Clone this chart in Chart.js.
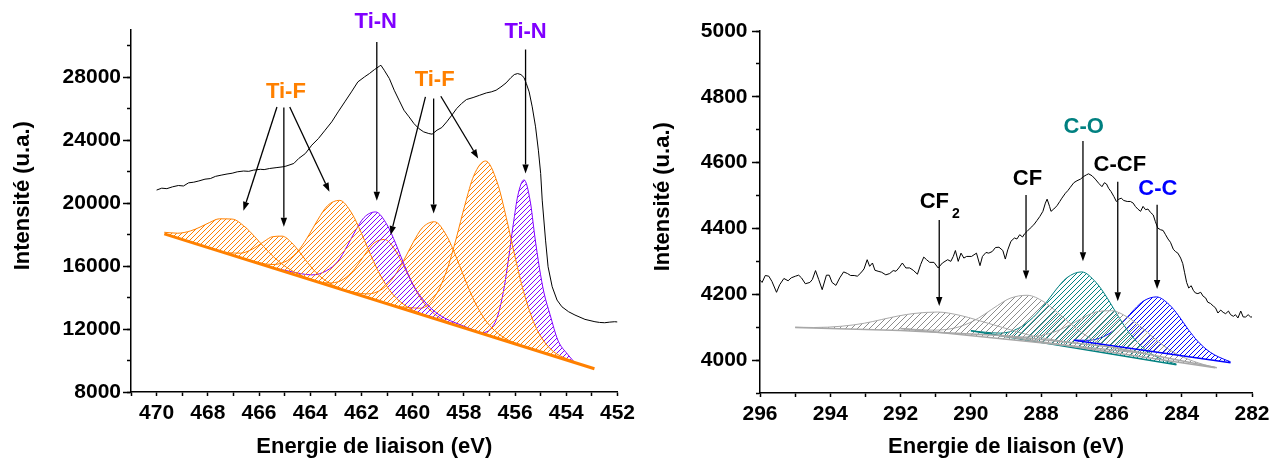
<!DOCTYPE html>
<html>
<head>
<meta charset="utf-8">
<script src="https://cdn.jsdelivr.net/npm/chart.js@4.4.1/dist/chart.umd.min.js"></script>
<style>
html,body{margin:0;padding:0;background:#fff;}
#wrap{position:relative;width:1280px;height:464px;overflow:hidden;}
#wrap canvas{position:absolute;top:0;}
</style>
</head>
<body>
<div id="wrap">
<canvas id="c1" width="640" height="464" style="left:0"></canvas>
<canvas id="c2" width="640" height="464" style="left:640px"></canvas>
</div>
<script>
// ---------------- LEFT PANEL : Ti 2p ----------------
const tiExpEV = [470.00,469.80,469.60,469.38,469.15,468.95,468.75,468.55,468.35,468.11,467.90,467.70,467.48,467.25,467.05,466.85,466.60,466.40,466.22,465.95,465.80,465.59,465.30,465.10,464.95,464.64,464.45,464.19,463.94,463.68,463.42,463.16,462.91,462.65,462.39,462.14,461.88,461.69,461.49,461.30,461.24,461.11,460.91,460.72,460.53,460.34,460.14,459.95,459.76,459.57,459.37,459.24,459.05,458.86,458.67,458.47,458.28,458.09,457.90,457.64,457.38,457.12,456.93,456.74,456.55,456.35,456.16,456.03,455.90,455.77,455.65,455.56,455.45,455.33,455.20,455.09,455.00,454.94,454.81,454.71,454.55,454.36,454.17,453.91,453.66,453.27,452.88,452.70,452.50,452.30,452.11,452.00];
const tiExpInt = [20830,20950,20920,21035,21120,21090,21290,21330,21410,21523,21560,21700,21777,21850,21900,21989,22040,22020,22095,22150,22130,22200,22260,22300,22349,22520,22836,23153,23682,24105,24634,25163,25798,26433,27068,27703,28020,28232,28486,28698,28761,28444,27915,27174,26539,25904,25481,25057,24740,24528,24423,24381,24634,24804,25163,25587,26010,26327,26581,26708,26856,27004,27068,27174,27385,27639,27978,28168,28232,28168,27978,27597,27068,26116,24846,23365,21883,20190,17650,15955,14685,13840,13415,13100,12890,12615,12465,12420,12400,12440,12465,12450];

const tiBaseEV  = [469.70, 452.90];
const tiBaseInt = [18048, 9480];

const tiF1EV  = [469.70,469.175,468.675,468.30,467.925,467.55,467.05,466.55,466.175,465.80,465.425,464.925,464.30,463.30];
const tiF1Int = [18149,18089,18235,18479,18773,19002,18987,18492,17881,17204,16578,15922,15374,14789];
const tiF2EV  = [467.95,467.19,466.715,466.335,466.05,465.765,465.48,465.10,464.72,464.435,464.15,463.865,463.485,463.01,462.25];
const tiF2Int = [17160,16845,16823,17014,17287,17607,17865,17902,17477,16929,16318,15754,15175,14713,14253];
const tiF3EV  = [466.45,465.49,464.89,464.41,464.05,463.69,463.33,462.85,462.37,462.01,461.65,461.29,460.81,460.21,459.25];
const tiF3Int = [16402,16098,16354,17092,17977,18984,19830,20175,19340,18127,16753,15501,14273,13405,12730];
const tiN1EV  = [465.35,464.825,463.925,463.36,462.91,462.575,462.24,461.90,461.45,461.00,460.66,460.325,459.99,459.54,458.975,458.075,457.30];
const tiN1Int = [15860,15674,15439,15711,16321,17214,18230,19083,19441,18623,17425,16067,14832,13762,12914,12231,11744];
const tiF4EV  = [464.10,463.30,462.80,462.40,462.10,461.80,461.50,461.10,460.70,460.40,460.10,459.80,459.40,458.90,458.10];
const tiF4Int = [15200,14925,15073,15574,16187,16888,17473,17692,17065,16174,15167,14248,13339,12681,12140];
const tiF5EV  = [462.75,461.79,461.19,460.71,460.35,459.99,459.63,459.15,458.67,458.31,457.95,457.59,457.11,456.51,455.55];
const tiF5Int = [14516,14229,14538,15370,16355,17475,18416,18818,17927,16618,15131,13779,12457,11536,10844];
const tiF6EV  = [460.60,459.68,459.105,458.645,458.30,457.955,457.61,457.15,456.69,456.345,456.00,455.655,455.195,454.62,453.70];
const tiF6Int = [13429,13324,14134,15829,17749,19911,21754,22678,21285,19090,16576,14304,12139,10743,9910];
const tiN2EV  = [457.85,457.30,456.97,456.67,456.43,456.25,456.07,455.89,455.65,455.41,455.23,455.05,454.87,454.63,454.33,453.95,453.70];
const tiN2Int = [12004,11779,11981,12882,14604,16515,18657,20494,21479,20150,17900,15900,14300,12900,11300,10400,9928];

const tiLabelText = ['Ti-N','Ti-N','Ti-F','Ti-F'];
const tiLabelEV   = [461.44, 455.59, 464.95, 459.14];
const tiLabelInt  = [31510, 30875, 27090, 27810];
// arrows: [fromEV, fromInt, toEV, toInt]
const tiArrows = [
  [461.40,30240,461.40,20150],
  [455.59,29760,455.59,21885],
  [465.30,26110,466.61,19510],
  [465.03,26075,465.03,18495],
  [464.80,26110,463.25,20717],
  [459.50,26750,460.86,17968],
  [459.18,26646,459.18,19346],
  [458.90,26793,457.44,22837]
];

// ---------------- RIGHT PANEL : C 1s ----------------
const cExpEV = [296.00,295.94,295.85,295.75,295.66,295.53,295.44,295.32,295.20,295.11,294.99,294.90,294.82,294.71,294.58,294.51,294.42,294.33,294.23,294.11,294.03,293.95,293.84,293.73,293.62,293.51,293.42,293.32,293.23,293.13,293.04,292.95,292.88,292.80,292.73,292.64,292.54,292.42,292.31,292.21,292.13,292.05,291.95,291.85,291.74,291.64,291.52,291.43,291.34,291.26,291.17,291.05,290.93,290.81,290.66,290.57,290.50,290.44,290.36,290.28,290.20,290.12,289.98,289.84,289.74,289.67,289.57,289.49,289.39,289.30,289.20,289.09,289.02,288.95,288.86,288.76,288.69,288.61,288.53,288.47,288.40,288.31,288.21,288.12,288.04,287.95,287.88,287.83,287.76,287.72,287.64,287.55,287.47,287.41,287.31,287.24,287.17,287.12,287.07,286.98,286.88,286.79,286.71,286.65,286.55,286.46,286.36,286.27,286.20,286.14,286.08,286.01,285.93,285.86,285.79,285.72,285.65,285.55,285.46,285.38,285.32,285.25,285.17,285.10,285.03,284.96,284.89,284.81,284.75,284.68,284.60,284.53,284.46,284.39,284.32,284.24,284.18,284.11,284.03,283.97,283.92,283.86,283.80,283.73,283.67,283.61,283.54,283.46,283.39,283.32,283.26,283.18,283.10,283.04,282.97,282.89,282.82,282.75,282.67,282.61,282.53,282.47,282.40,282.32,282.25,282.18,282.11,282.04,282.00];
const cExpInt = [4243,4236,4257,4255,4239,4206,4229,4248,4241,4250,4255,4258,4250,4232,4236,4245,4272,4245,4214,4258,4258,4236,4227,4250,4268,4263,4257,4257,4255,4265,4277,4305,4285,4295,4273,4270,4267,4259,4263,4272,4270,4280,4295,4280,4280,4273,4261,4290,4313,4305,4297,4297,4280,4295,4305,4300,4315,4333,4300,4325,4310,4315,4315,4325,4287,4315,4327,4325,4330,4342,4343,4333,4307,4335,4361,4371,4368,4381,4374,4384,4391,4401,4411,4424,4436,4452,4477,4489,4467,4452,4459,4469,4482,4492,4507,4515,4525,4532,4539,4545,4550,4558,4563,4566,4560,4550,4537,4527,4539,4535,4522,4512,4497,4482,4489,4492,4485,4482,4482,4477,4467,4459,4452,4467,4457,4459,4449,4441,4421,4401,4396,4394,4381,4368,4358,4337,4330,4325,4310,4293,4267,4236,4219,4226,4212,4204,4202,4206,4194,4189,4176,4172,4164,4159,4143,4152,4145,4141,4149,4138,4133,4138,4128,4149,4131,4131,4138,4131,4131];

const cf2BaseEV  = [295.0, 292.0, 289.0, 286.0, 283.0];
const cf2BaseInt = [4099, 4090, 4074, 4040, 3977];
const cfBaseEV   = [292.0, 285.0];
const cfBaseInt  = [4096, 4020];
const ccfBaseEV  = [289.2, 283.05];
const ccfBaseInt = [4075, 3977];
const coBaseEV   = [290.0, 284.15];
const coBaseInt  = [4089, 3986];
const ccBaseEV   = [287.07, 282.61];
const ccBaseInt  = [4060, 3992];

const cf2EV  = [295.00,294.47,293.67,293.03,292.55,292.07,291.59,290.95,290.31,289.83,289.35,288.87,288.23,287.43,286.80];
const cf2Int = [4100,4099,4103,4112,4123,4134,4142,4146,4136,4122,4107,4092,4073,4058,4049];
const cfEV   = [292.00,291.04,290.44,289.96,289.60,289.24,288.88,288.40,287.92,287.56,287.20,286.84,286.36,285.76,285.10];
const cfInt  = [4096,4091,4098,4117,4140,4166,4188,4197,4177,4147,4114,4083,4053,4033,4021];
const ccfEV  = [289.20,288.64,288.04,287.56,287.20,286.84,286.48,286.00,285.52,285.16,284.80,284.44,283.96,283.36,283.05];
const ccfInt = [4076,4070,4074,4088,4106,4127,4145,4150,4129,4101,4068,4038,4009,3986,3978];
const coEV   = [290.00,289.16,288.635,288.215,287.90,287.585,287.27,286.85,286.43,286.115,285.80,285.485,285.065,284.54,284.15];
const coInt  = [4089,4082,4097,4131,4169,4213,4250,4268,4235,4188,4132,4082,4034,4001,3988];
const ccEV   = [287.07,286.70,286.25,285.89,285.62,285.35,285.08,284.72,284.36,284.09,283.82,283.55,283.19,282.74,282.61];
const ccInt  = [4061,4060,4070,4094,4122,4154,4180,4192,4169,4135,4094,4058,4024,4000,3995];

const cLabelText = ['CF','CF','C-O','C-CF','C-C'];
const cLabelSub  = ['2','','','',''];
const cLabelEV   = [291.04, 288.39, 286.79, 285.76, 284.68];
const cLabelInt  = [4482, 4551, 4707, 4594, 4520];
const cArrows = [
  [290.90,4426,290.90,4164],
  [288.43,4502,288.43,4245],
  [286.81,4666,286.81,4300],
  [285.82,4542,285.82,4179],
  [284.70,4472,284.70,4216]
];

// ---------------- styling / helpers ----------------
const FONT = "'Liberation Sans', Arial, Helvetica, sans-serif";
Chart.defaults.font.family = FONT;
Chart.defaults.color = '#000';

const ORANGE = '#ff8000', PURPLE = '#8000ff', GREY = '#a8a8a8', GREYH = '#8c8c8c', TEAL = '#008080', BLUE = '#0000ff';
const CLEAR = 'rgba(0,0,0,0)';

function P(xs, ys){ const n = Math.min(xs.length, ys.length); const out=[]; for(let i=0;i<n;i++) out.push({x:xs[i], y:ys[i]}); return out; }

function hatch(color, size, lw){
  const c = document.createElement('canvas');
  c.width = size; c.height = size;
  const g = c.getContext('2d');
  g.strokeStyle = color; g.lineWidth = lw;
  g.beginPath();
  g.moveTo(-1, size+1); g.lineTo(size+1, -1);
  g.moveTo(-2, 2); g.lineTo(2, -2);
  g.moveTo(size-2, size+2); g.lineTo(size+2, size-2);
  g.stroke();
  return g.createPattern(c, 'repeat');
}

function lineDs(xs, ys, color, width){
  return {data:P(xs,ys), borderColor:color, borderWidth:width, pointRadius:0, pointHoverRadius:0, fill:false, tension:0};
}
function peakDs(xs, ys, color, pattern, baseIdx){
  return {data:P(xs,ys), borderColor:color, borderWidth:1, pointRadius:0, pointHoverRadius:0,
          backgroundColor:pattern, fill:baseIdx, cubicInterpolationMode:'monotone'};
}

const annotPlugin = {
  id:'annot',
  afterDatasetsDraw(chart, args, opts){
    const ctx = chart.ctx, xs = chart.scales.x, ys = chart.scales.y;
    ctx.save();
    ctx.strokeStyle = '#000'; ctx.fillStyle = '#000'; ctx.lineWidth = 1.3;
    (opts.arrows||[]).forEach(a => {
      const x1 = xs.getPixelForValue(a[0]), y1 = ys.getPixelForValue(a[1]);
      const x2 = xs.getPixelForValue(a[2]), y2 = ys.getPixelForValue(a[3]);
      const ang = Math.atan2(y2-y1, x2-x1), L = 9, W = 3.2;
      const bx = x2 - L*Math.cos(ang), by = y2 - L*Math.sin(ang);
      ctx.beginPath(); ctx.moveTo(x1,y1); ctx.lineTo(bx,by); ctx.stroke();
      ctx.beginPath(); ctx.moveTo(x2,y2);
      ctx.lineTo(bx + W*Math.sin(ang), by - W*Math.cos(ang));
      ctx.lineTo(bx - W*Math.sin(ang), by + W*Math.cos(ang));
      ctx.closePath(); ctx.fill();
    });
    ctx.textBaseline = 'middle';
    (opts.text||[]).forEach((t,i) => {
      const px = xs.getPixelForValue(opts.ev[i]), py = ys.getPixelForValue(opts.val[i]);
      ctx.font = "bold 22px " + FONT;
      ctx.textAlign = 'center';
      ctx.fillStyle = opts.colors[i];
      ctx.fillText(t, px, py);
      const sub = opts.sub ? opts.sub[i] : '';
      if (sub){
        const w = ctx.measureText(t).width;
        ctx.font = "bold 14px " + FONT;
        ctx.textAlign = 'left';
        ctx.fillText(sub, px + w/2 + 3, py + 13);
      }
    });
    ctx.restore();
  }
};

function onStep(v, ref, step){ const r = Math.round(v); return ((r - ref) % step) === 0; }

function scalesCfg(o){
  const tickFont = {size:21, weight:'bold', family:FONT};
  return {
    x:{type:'linear', position:'bottom', reverse:true, min:o.xMin, max:o.xMax,
       afterFit:s=>{s.height=o.xH;},
       border:{display:true, color:'#000', width:1.5},
       grid:{display:true, drawOnChartArea:false, drawTicks:true, tickLength:4, tickWidth:1.5, tickColor:'#000'},
       ticks:{stepSize:1, autoSkip:false, maxRotation:0, minRotation:0, padding:5, includeBounds:false, color:'#000', font:tickFont,
              callback:v=>{const r=Math.round(v); return r%2===0 ? String(r) : '';}},
       title:{display:true, text:'Energie de liaison (eV)', color:'#000', font:{size:22, weight:'bold', lineHeight:1, family:FONT}, padding:{top:0, bottom:6}}},
    y:{type:'linear', position:'left', weight:0, min:o.yMin, max:o.yMax,
       afterFit:s=>{s.width=o.yW;},
       border:{display:true, color:'#000', width:1.5},
       grid:{display:true, drawOnChartArea:false, drawTicks:true, tickLength:4, tickWidth:1.5,
             tickColor:c=> (c.tick && onStep(c.tick.value, o.yRef, o.yMinor)) ? '#000' : CLEAR},
       ticks:{stepSize:o.yStep, autoSkip:false, padding:o.yPad, includeBounds:false, color:'#000', font:tickFont,
              callback:v=> onStep(v, o.yRef, o.yMajor) ? String(Math.round(v)) : ''},
       title:{display:true, text:'     Intensité (u.a.)', color:'#000', font:{size:22, weight:'bold', lineHeight:1, family:FONT}, padding:{top:11.5, bottom:0}}},
    yMaj:{type:'linear', position:'left', weight:-1, min:o.yMin, max:o.yMax,
       afterFit:s=>{s.width=0;},
       border:{display:false},
       grid:{display:true, drawOnChartArea:false, drawTicks:true, tickLength:8, tickWidth:1.5,
             tickColor:c=> (c.tick && onStep(c.tick.value, o.yRef, o.yMajor)) ? '#000' : CLEAR},
       ticks:{display:false, stepSize:o.yStep, autoSkip:false, includeBounds:false}}
  };
}

function baseOptions(o, annot){
  return {
    responsive:false, maintainAspectRatio:false, devicePixelRatio:1, animation:false,
    layout:{padding:{left:0, right:o.padR, top:o.padT, bottom:0}},
    plugins:{legend:{display:false}, tooltip:{enabled:false}, annot:annot},
    scales:scalesCfg(o),
    elements:{point:{radius:0}}
  };
}

// ---- left chart
const oP = hatch(ORANGE, 5, 1), pP = hatch(PURPLE, 5, 1);
new Chart(document.getElementById('c1'), {
  type:'line',
  data:{datasets:[
    lineDs(tiExpEV, tiExpInt, '#000', 1),
    lineDs(tiBaseEV, tiBaseInt, ORANGE, 3),
    peakDs(tiF1EV, tiF1Int, ORANGE, oP, 1),
    peakDs(tiF2EV, tiF2Int, ORANGE, oP, 1),
    peakDs(tiF3EV, tiF3Int, ORANGE, oP, 1),
    peakDs(tiN1EV, tiN1Int, PURPLE, pP, 1),
    peakDs(tiF4EV, tiF4Int, ORANGE, oP, 1),
    peakDs(tiF5EV, tiF5Int, ORANGE, oP, 1),
    peakDs(tiF6EV, tiF6Int, ORANGE, oP, 1),
    peakDs(tiN2EV, tiN2Int, PURPLE, pP, 1)
  ]},
  options: baseOptions({xMin:452, xMax:471, yMin:8000, yMax:31000, yStep:1000, yMinor:2000, yMajor:4000, yRef:8000,
                        yW:131, xH:72, yPad:6, padR:17, padT:30},
                       {arrows:tiArrows, text:tiLabelText, ev:tiLabelEV, val:tiLabelInt,
                        colors:[PURPLE, PURPLE, ORANGE, ORANGE]}),
  plugins:[annotPlugin]
});

// ---- right chart
const gP = hatch(GREYH, 6, 1), tP = hatch(TEAL, 5, 1), bP = hatch(BLUE, 5, 1);
new Chart(document.getElementById('c2'), {
  type:'line',
  data:{datasets:[
    lineDs(cExpEV, cExpInt, '#000', 1),
    lineDs(cf2BaseEV, cf2BaseInt, GREY, 1.5),
    lineDs(cfBaseEV, cfBaseInt, GREY, 1.5),
    lineDs(ccfBaseEV, ccfBaseInt, GREY, 1.5),
    lineDs(coBaseEV, coBaseInt, TEAL, 1.5),
    lineDs(ccBaseEV, ccBaseInt, BLUE, 1.5),
    peakDs(cf2EV, cf2Int, GREY, gP, 1),
    peakDs(cfEV, cfInt, GREY, gP, 2),
    peakDs(ccfEV, ccfInt, GREY, gP, 3),
    peakDs(coEV, coInt, TEAL, tP, 4),
    peakDs(ccEV, ccInt, BLUE, bP, 5)
  ]},
  options: baseOptions({xMin:282, xMax:296, yMin:3900, yMax:5000, yStep:100, yMinor:100, yMajor:200, yRef:4000,
                        yW:120, xH:71, yPad:8.5, padR:28, padT:31},
                       {arrows:cArrows, text:cLabelText, sub:cLabelSub, ev:cLabelEV, val:cLabelInt,
                        colors:['#000','#000',TEAL,'#000',BLUE]}),
  plugins:[annotPlugin]
});
</script>
</body>
</html>
